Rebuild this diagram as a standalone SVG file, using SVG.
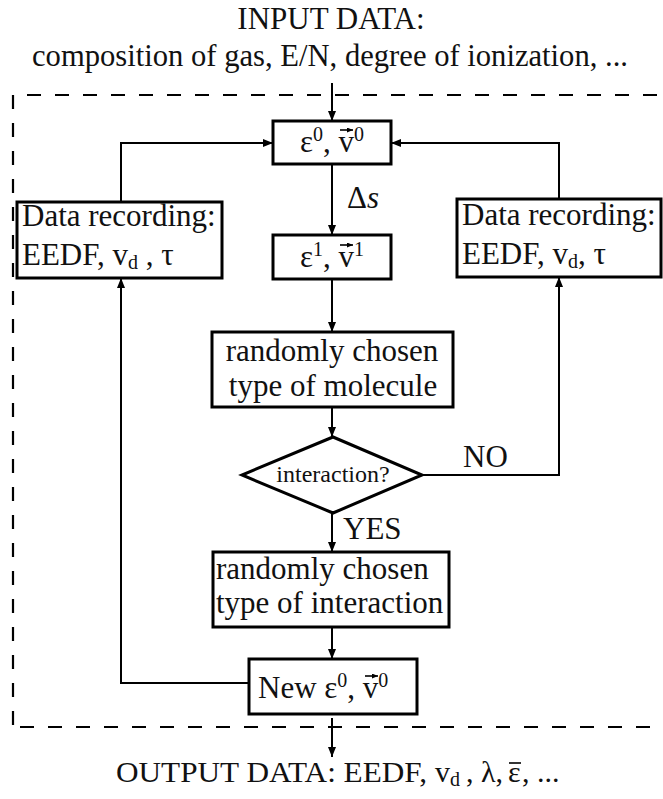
<svg xmlns="http://www.w3.org/2000/svg" width="663" height="799" viewBox="0 0 663 799">
<style>
text{font-family:"Liberation Serif","Times New Roman",serif;fill:#111;font-size:31px}
.mid{text-anchor:middle}
.q{font-size:24px}
.out{font-size:30px}
.s{font-size:20px}
.box{fill:#fff;stroke:#000;stroke-width:3}
.con{fill:none;stroke:#000;stroke-width:2}
.dash{fill:none;stroke:#000;stroke-width:2.2;stroke-dasharray:14 14}
.vec{fill:none;stroke:#000;stroke-width:1.6}
</style>
<defs>
<marker id="ah" viewBox="0 0 10 8" refX="10" refY="4" markerWidth="10" markerHeight="8" markerUnits="userSpaceOnUse" orient="auto">
<path d="M0 0 L10 4 L0 8 Z" fill="#000"/>
</marker>
<marker id="va" viewBox="0 0 6 5" refX="6" refY="2.5" markerWidth="6" markerHeight="5" markerUnits="userSpaceOnUse" orient="auto">
<path d="M0 0 L6 2.5 L0 5 Z" fill="#000"/>
</marker>
</defs>

<g id="frame">
<line class="dash" x1="27" y1="95" x2="663" y2="95"/>
<line class="dash" x1="13" y1="95" x2="13" y2="727"/>
<line class="dash" x1="20" y1="727" x2="663" y2="727"/>
</g>

<g id="connectors">
<line class="con" x1="332" y1="83" x2="332" y2="121" marker-end="url(#ah)"/>
<line class="con" x1="332" y1="164" x2="332" y2="235" marker-end="url(#ah)"/>
<line class="con" x1="332" y1="279" x2="332" y2="332" marker-end="url(#ah)"/>
<line class="con" x1="332" y1="407" x2="332" y2="437" marker-end="url(#ah)"/>
<line class="con" x1="332" y1="513" x2="332" y2="552" marker-end="url(#ah)"/>
<line class="con" x1="332" y1="627" x2="332" y2="659" marker-end="url(#ah)"/>
<line class="con" x1="332" y1="718" x2="332" y2="757" marker-end="url(#ah)"/>
<path class="con" d="M249 683 H121 V278" marker-end="url(#ah)"/>
<path class="con" d="M121 202 V143 H273" marker-end="url(#ah)"/>
<path class="con" d="M422 475 H559 V277" marker-end="url(#ah)"/>
<path class="con" d="M559 199 V143 H391" marker-end="url(#ah)"/>
</g>

<g id="input">
<text class="mid" x="331" y="29">INPUT DATA:</text>
<text x="32" y="66" textLength="596" lengthAdjust="spacingAndGlyphs">composition of gas, E/N, degree of ionization, ...</text>
</g>

<g id="state0">
<rect class="box" x="273" y="121" width="118" height="43"/>
<text x="300" y="152">ε<tspan class="s" dy="-11">0</tspan><tspan dy="11">, v</tspan><tspan class="s" dy="-11">0</tspan></text>
<line class="vec" x1="340" y1="130" x2="353" y2="130" marker-end="url(#va)"/>
</g>

<g id="step-label">
<text x="347" y="208">Δ<tspan font-style="italic">s</tspan></text>
</g>

<g id="state1">
<rect class="box" x="273" y="235" width="118" height="44"/>
<text x="300" y="267">ε<tspan class="s" dy="-11">1</tspan><tspan dy="11">, v</tspan><tspan class="s" dy="-11">1</tspan></text>
<line class="vec" x1="340" y1="245" x2="353" y2="245" marker-end="url(#va)"/>
</g>

<g id="record-left">
<rect class="box" x="17" y="202" width="205" height="76"/>
<text x="22" y="226">Data recording:</text>
<text x="22" y="265">EEDF, v<tspan class="s" dy="4">d</tspan><tspan dy="-4"> , τ</tspan></text>
</g>

<g id="record-right">
<rect class="box" x="457" y="199" width="204" height="78"/>
<text x="462" y="225">Data recording:</text>
<text x="462" y="264">EEDF, v<tspan class="s" dy="4">d</tspan><tspan dy="-4">, τ</tspan></text>
</g>

<g id="molecule">
<rect class="box" x="212" y="332" width="241" height="75"/>
<text class="mid" x="332" y="361">randomly chosen</text>
<text class="mid" x="333" y="396">type of molecule</text>
</g>

<g id="decision">
<polygon class="box" points="333,437 422,475 333,513 242,475"/>
<text class="q mid" x="333" y="482">interaction?</text>
</g>

<g id="labels">
<text x="463" y="467">NO</text>
<text x="343" y="539">YES</text>
</g>

<g id="interaction">
<rect class="box" x="213" y="552" width="236" height="75"/>
<text x="216" y="579">randomly chosen</text>
<text x="216" y="613">type of interaction</text>
</g>

<g id="new-state">
<rect class="box" x="249" y="659" width="168" height="55"/>
<text x="258" y="698">New ε<tspan class="s" dy="-11">0</tspan><tspan dy="11">, v</tspan><tspan class="s" dy="-11">0</tspan></text>
<line class="vec" x1="365" y1="676" x2="378" y2="676" marker-end="url(#va)"/>
</g>

<g id="output">
<text class="out" x="116" y="782" textLength="311" lengthAdjust="spacingAndGlyphs">OUTPUT DATA: EEDF,</text>
<text class="out" x="435" y="782">v<tspan class="s" dy="4">d</tspan></text>
<text class="out" x="466" y="782">,</text>
<text class="out" x="481" y="782">λ,</text>
<text class="out" x="508" y="782">ε</text>
<line x1="509" y1="763" x2="521" y2="763" stroke="#000" stroke-width="1.6"/>
<text class="out" x="522" y="782">, ...</text>
</g>
</svg>
